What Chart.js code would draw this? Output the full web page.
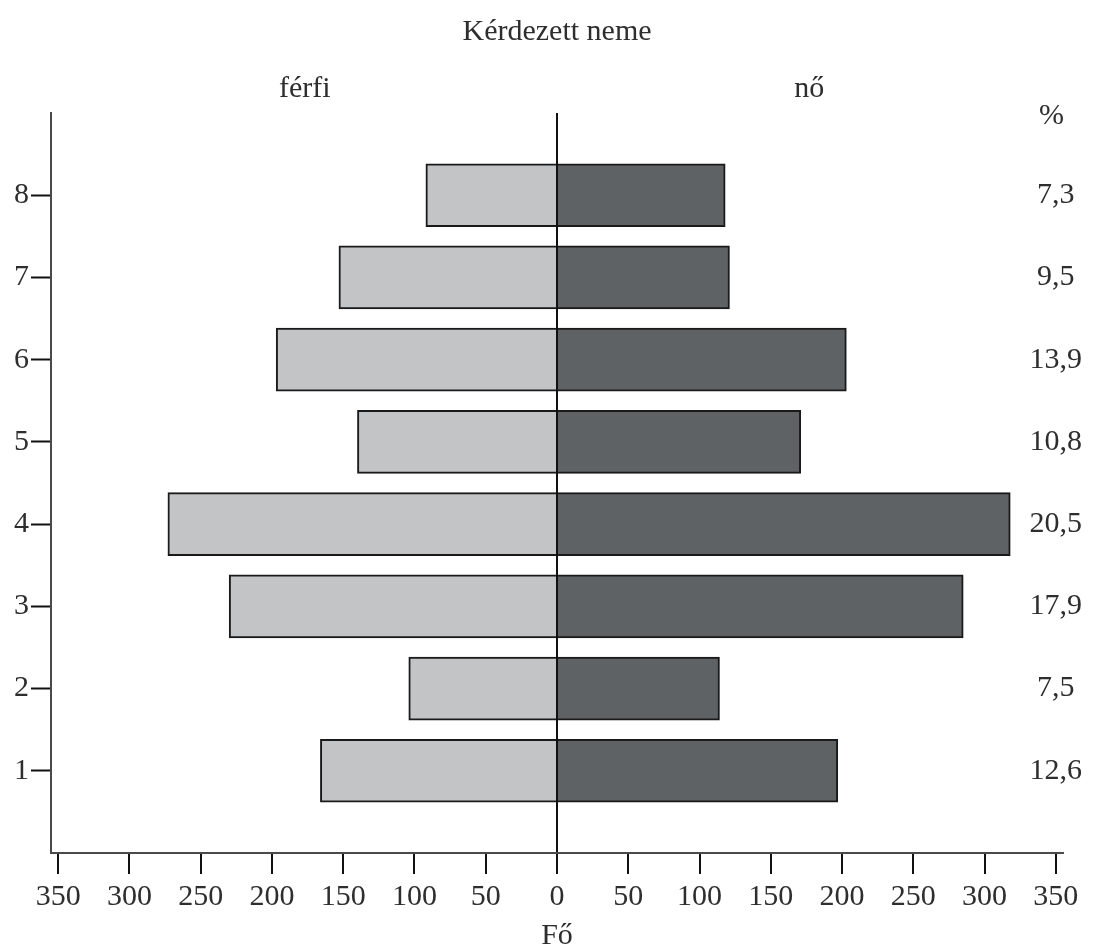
<!DOCTYPE html>
<html>
<head>
<meta charset="utf-8">
<script src="https://cdn.jsdelivr.net/npm/chart.js@4.4.0/dist/chart.umd.min.js"></script>
<style>
html,body{margin:0;padding:0;background:#fff;}
#wrap{width:1099px;height:949px;}
</style>
</head>
<body>
<div id="wrap"><canvas id="c" width="1099" height="949"></canvas></div>
<script>
const categories = [1, 2, 3, 4, 5, 6, 7, 8];
const male = [166, 104, 230, 273, 140, 197, 153, 92];
const female = [197, 114, 285, 318, 171, 203, 121, 118];
const pctLabels = ['12,6', '7,5', '17,9', '20,5', '10,8', '13,9', '9,5', '7,3'];
const xTickValues = [-350, -300, -250, -200, -150, -100, -50, 0, 50, 100, 150, 200, 250, 300, 350];
const title = 'Kérdezett neme';
const groupLeft = 'férfi';
const groupRight = 'nő';
const pctHeader = '%';
const xTitle = 'Fő';

const FONT = '"Liberation Serif", "DejaVu Serif", serif';
const TXT = '#2e2e2e';

const textPlugin = {
  id: 'texts',
  afterDraw(chart) {
    const ctx = chart.ctx;
    const xs = chart.scales.x, ys = chart.scales.y;
    ctx.save();
    ctx.fillStyle = TXT;
    ctx.font = '30px ' + FONT;
    ctx.textAlign = 'center';
    ctx.textBaseline = 'alphabetic';
    ctx.fillText(title, xs.getPixelForValue(0), 40);
    ctx.fillText(groupLeft, xs.getPixelForValue(-177), 97);
    ctx.fillText(groupRight, xs.getPixelForValue(177), 97);
    ctx.fillText(pctHeader, xs.getPixelForValue(347), 124);
    ctx.fillText(xTitle, xs.getPixelForValue(0), 944);
    ctx.textBaseline = 'middle';
    categories.forEach((c, i) => {
      ctx.fillText(pctLabels[i], xs.getPixelForValue(350), ys.getPixelForValue(c));
    });
    ctx.restore();
  }
};

new Chart(document.getElementById('c'), {
  type: 'bar',
  data: {
    datasets: [
      {
        label: groupLeft,
        data: categories.map((c, i) => ({ x: -male[i], y: c })),
        backgroundColor: '#c2c4c6',
        borderColor: '#1a1a1a',
        borderWidth: 2,
        borderSkipped: 'start',
        barThickness: 63
      },
      {
        label: groupRight,
        data: categories.map((c, i) => ({ x: female[i], y: c })),
        backgroundColor: '#5f6265',
        borderColor: '#1a1a1a',
        borderWidth: 2,
        borderSkipped: 'start',
        barThickness: 63
      }
    ]
  },
  plugins: [textPlugin],
  options: {
    indexAxis: 'y',
    responsive: false,
    animation: false,
    layout: { padding: { top: 113, right: 36, left: 0, bottom: 0 } },
    plugins: { legend: { display: false }, tooltip: { enabled: false }, title: { display: false } },
    scales: {
      x: {
        type: 'linear',
        min: -355,
        max: 355,
        stacked: true,
        z: 1,
        afterBuildTicks: (s) => { s.ticks = xTickValues.map(v => ({ value: v })); },
        afterFit: (s) => { s.height = 96; },
        ticks: {
          callback: (v) => String(Math.abs(v)),
          color: TXT,
          font: { family: FONT, size: 30 },
          padding: 5,
          maxRotation: 0,
          autoSkip: false
        },
        grid: {
          drawOnChartArea: true,
          color: (ctx) => (ctx.tick && ctx.tick.value === 0 ? '#111' : 'rgba(0,0,0,0)'),
          lineWidth: 2,
          tickLength: 21,
          tickColor: '#111',
          tickWidth: 2
        },
        border: { display: true, color: '#4a4a4a', width: 2 }
      },
      y: {
        type: 'linear',
        min: 0,
        max: 9,
        offset: false,
        stacked: true,
        afterBuildTicks: (s) => { s.ticks = categories.map(v => ({ value: v })); },
        afterFit: (s) => { s.width = 51; },
        ticks: {
          callback: (v) => String(v),
          color: TXT,
          font: { family: FONT, size: 30 },
          padding: 2
        },
        grid: {
          offset: false,
          drawOnChartArea: false,
          tickLength: 20,
          tickColor: '#111',
          tickWidth: 2
        },
        border: { display: true, color: '#4a4a4a', width: 2 }
      }
    }
  }
});
</script>
</body>
</html>
